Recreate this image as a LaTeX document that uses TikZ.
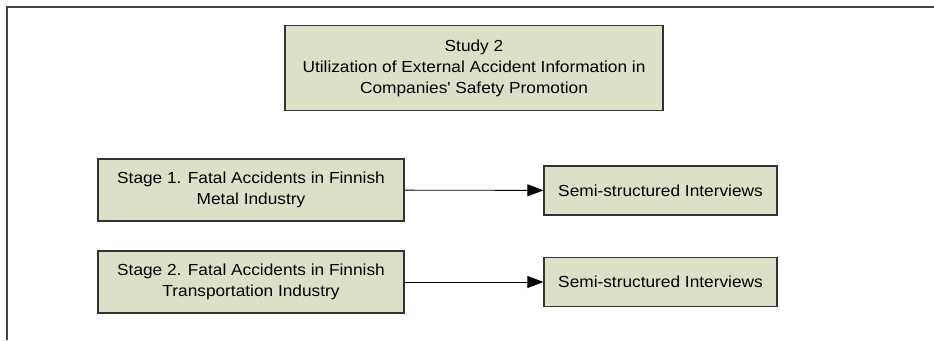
\documentclass[tikz,border=0pt]{standalone}
\usepackage{fontspec}
\setmainfont[FakeStretch=1.08]{Liberation Sans}
\usetikzlibrary{arrows.meta}
\definecolor{boxfill}{RGB}{221,224,201}
\definecolor{boxline}{RGB}{50,50,50}
\definecolor{frameline}{RGB}{64,64,64}

\begin{document}
\begin{tikzpicture}[x=1pt,y=-1pt,>={Triangle[length=16pt,width=12pt]},
  font=\fontsize{16}{21}\selectfont,
  box/.style={draw=boxline,line width=1.2pt,fill=boxfill,align=center,inner sep=2pt}]
\useasboundingbox (0,0) rectangle (934,340);
\draw[frameline,line width=1.6pt] (7,340) -- (7,7) -- (934,7);
\node[box,minimum width=378pt,minimum height=85pt] (study) at (474,68)
  {Study 2\\Utilization of External Accident Information in\\Companies\textquotesingle{} Safety Promotion};
\node[box,minimum width=306pt,minimum height=62pt] (stage1) at (251,190)
  {Stage 1. Fatal Accidents in Finnish\\Metal Industry};
\node[box,minimum width=306pt,minimum height=62pt] (stage2) at (251,282)
  {Stage 2. Fatal Accidents in Finnish\\Transportation Industry};
\node[box,minimum width=233pt,minimum height=49pt] (inter1) at (660.5,190.5)
  {Semi-structured Interviews};
\node[box,minimum width=233pt,minimum height=49pt] (inter2) at (660.5,282)
  {Semi-structured Interviews};
\draw[->,line width=0.9pt] (stage1) -- (inter1);
\draw[->,line width=0.9pt] (stage2) -- (inter2);
\end{tikzpicture}
\end{document}
